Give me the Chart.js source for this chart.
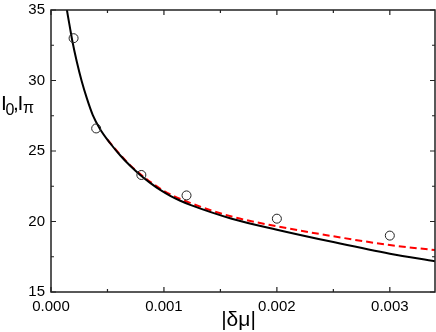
<!DOCTYPE html>
<html>
<head>
<meta charset="utf-8">
<script src="https://cdn.jsdelivr.net/npm/chart.js@4"></script>
<style>
  html, body { margin: 0; padding: 0; background: #fff; }
  #wrap { width: 436px; height: 332px; }
</style>
</head>
<body>
<div id="wrap"><canvas id="chart" width="436" height="332"></canvas></div>
<script>
// valores
const pointX = [0.0002, 0.0004, 0.0008, 0.0012, 0.002, 0.003];
const pointY = [33.0, 26.6, 23.3, 21.85, 20.2, 19.0];

const solidX = [0.00013, 0.000139, 0.000169, 0.000189, 0.000228, 0.000272, 0.000317, 0.00037, 0.000435, 0.000524, 0.000612, 0.000701, 0.00079, 0.000878, 0.000967, 0.001056, 0.001145, 0.001233, 0.0016, 0.002, 0.0025, 0.003, 0.0034];
const solidY = [35.6, 35.1, 33.7, 32.8, 31.35, 29.95, 28.75, 27.55, 26.55, 25.55, 24.7, 23.95, 23.3, 22.74, 22.24, 21.82, 21.47, 21.18, 20.2, 19.42, 18.54, 17.72, 17.18];

const dashX = [0.0005, 0.0006, 0.0007, 0.0008, 0.0009, 0.001, 0.0012, 0.0016, 0.002, 0.0025, 0.003, 0.0034];
const dashY = [25.8, 24.85, 24.0, 23.3, 22.7, 22.16, 21.42, 20.35, 19.66, 18.95, 18.33, 17.97];

const xTicks = [0, 0.001, 0.002, 0.003];
const yTicks = [15, 20, 25, 30, 35];

const toXY = (xs, ys) => xs.map((x, i) => ({ x: x, y: ys[i] }));

const FONT = '"Liberation Sans", Arial, sans-serif';

// moldura, ticks para dentro e títulos dos eixos
const framePlugin = {
    id: 'frame',
    afterDraw(chart) {
        const { ctx, chartArea: a, scales } = chart;
        const xs = scales.x, ys = scales.y;
        ctx.save();
        ctx.strokeStyle = '#222';
        ctx.lineWidth = 1.5;
        ctx.strokeRect(a.left, a.top, a.right - a.left, a.bottom - a.top);

        ctx.lineWidth = 1.2;
        ctx.beginPath();
        for (let v = 0; v <= 0.0034 + 1e-9; v += 0.0005) {
            const px = xs.getPixelForValue(v);
            const major = Math.abs(v / 0.001 - Math.round(v / 0.001)) < 1e-6;
            const len = major ? 5 : 3;
            ctx.moveTo(px, a.bottom); ctx.lineTo(px, a.bottom - len);
            ctx.moveTo(px, a.top); ctx.lineTo(px, a.top + len);
        }
        for (let v = 15; v <= 35; v += 2.5) {
            const py = ys.getPixelForValue(v);
            const len = (v % 5 === 0) ? 5 : 3;
            ctx.moveTo(a.left, py); ctx.lineTo(a.left + len, py);
            ctx.moveTo(a.right, py); ctx.lineTo(a.right - len, py);
        }
        ctx.stroke();

        // título do eixo y: I0,Iπ
        ctx.fillStyle = '#000';
        ctx.textBaseline = 'alphabetic';
        ctx.textAlign = 'left';
        ctx.font = '21px ' + FONT;
        ctx.fillText('I', 1, 110);
        ctx.fillText(',', 13, 110);
        ctx.fillText('I', 17.5, 110);
        ctx.font = '16px ' + FONT;
        ctx.fillText('0', 5.5, 115);
        ctx.fillText('π', 23, 113);

        // título do eixo x
        ctx.font = '21px ' + FONT;
        ctx.textAlign = 'center';
        ctx.fillText('|δμ|', 238.5, 325.5);
        ctx.restore();
    }
};

new Chart(document.getElementById('chart'), {
    type: 'scatter',
    data: {
        datasets: [
            {
                label: 'dashed',
                type: 'line',
                data: toXY(dashX, dashY),
                borderColor: '#ff0000',
                borderWidth: 2,
                borderDash: [7, 4],
                pointRadius: 0,
                fill: false,
                cubicInterpolationMode: 'monotone',
                order: 3
            },
            {
                label: 'solid',
                type: 'line',
                data: toXY(solidX, solidY),
                borderColor: '#000',
                borderWidth: 2,
                pointRadius: 0,
                fill: false,
                cubicInterpolationMode: 'monotone',
                order: 2
            },
            {
                label: 'pontos',
                data: toXY(pointX, pointY),
                pointStyle: 'circle',
                pointRadius: 4.5,
                pointBorderWidth: 1,
                borderColor: '#222',
                backgroundColor: 'rgba(255,255,255,0)',
                order: 1
            }
        ]
    },
    options: {
        responsive: false,
        animation: false,
        layout: { autoPadding: false, padding: { top: 10, right: 1, left: 0, bottom: 0 } },
        plugins: {
            legend: { display: false },
            tooltip: { enabled: false }
        },
        scales: {
            x: {
                type: 'linear',
                min: 0,
                max: 0.0034,
                grid: { display: false, drawTicks: false },
                border: { display: false },
                afterFit: s => { s.height = 40; s.paddingLeft = 0; s.paddingRight = 0; },
                afterBuildTicks: s => { s.ticks = xTicks.map(v => ({ value: v })); },
                ticks: {
                    padding: 6,
                    color: '#000',
                    font: { family: FONT, size: 15 },
                    maxRotation: 0,
                    callback: v => v.toFixed(3)
                }
            },
            y: {
                min: 15,
                max: 35,
                grid: { display: false, drawTicks: false },
                border: { display: false },
                afterFit: s => { s.width = 51; s.paddingTop = 0; s.paddingBottom = 0; },
                afterBuildTicks: s => { s.ticks = yTicks.map(v => ({ value: v })); },
                ticks: {
                    padding: 6,
                    color: '#000',
                    font: { family: FONT, size: 15 },
                    callback: v => String(v)
                }
            }
        }
    },
    plugins: [framePlugin]
});
</script>
</body>
</html>
